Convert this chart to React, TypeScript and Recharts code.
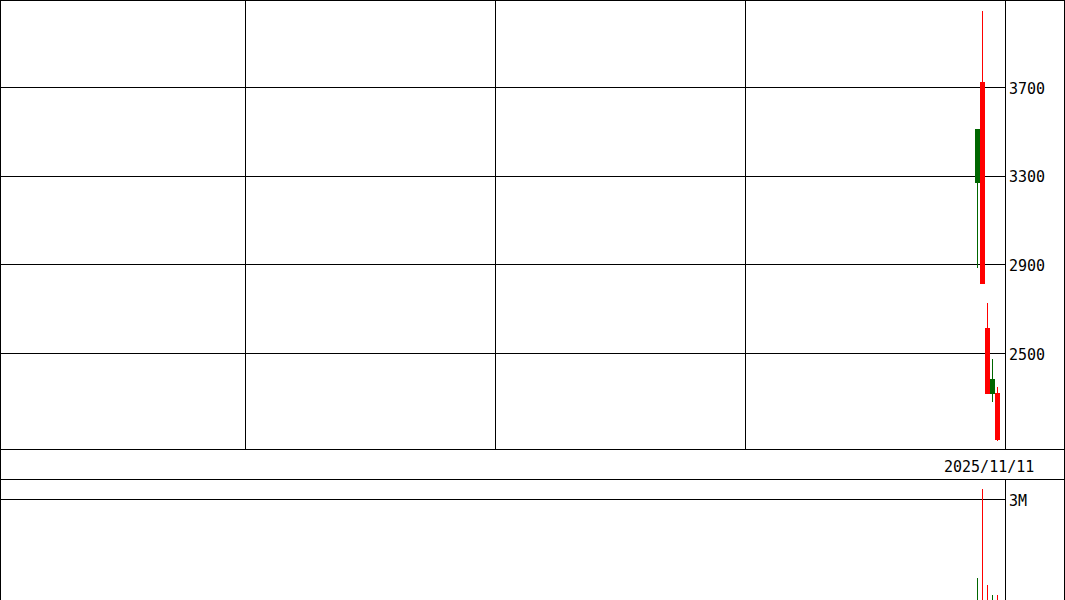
import { ComposedChart, Bar, XAxis, YAxis, CartesianGrid, ReferenceLine, Cell } from 'recharts'

// daily candles since listing (last 5 sessions of a 201-day window)
const dates = ['2025/11/05', '2025/11/06', '2025/11/07', '2025/11/10', '2025/11/11']
const opens = [3268, 3727, 2617, 2316, 2320]
const highs = [3515, 4047, 2730, 2477, 2351]
const lows = [2885, 2813, 2316, 2280, 2105]
const closes = [3515, 2813, 2316, 2387, 2109]
const volumes = [657000, 3313000, 448000, 149000, 149000]

const windowDays = 201
const firstDay = 195
const monthLines = [49, 99, 149]
const priceTicks = [2500, 2900, 3300, 3700]
const priceDomain = [2065, 4095]
const volumeTicks = [3000000]
const volumeDomain = [0, 3612000]
const lastDate = '2025/11/11'

const UP = '#006600'
const DOWN = '#ff0000'
const FONT = "'DejaVu Sans Mono', monospace"
const CANDLE_W = 5

const rows = dates.map((d, i) => ({
  date: d,
  day: firstDay + i + 0.5,
  open: opens[i],
  high: highs[i],
  low: lows[i],
  close: closes[i],
  volume: volumes[i],
  up: closes[i] >= opens[i],
}))

function Candle(props: any) {
  const { x, y, width, height, payload } = props
  if (x == null || y == null) return null
  const top = Math.min(y, y + height)
  const h = Math.abs(height)
  const span = payload.high - payload.low || 1
  const k = h / span
  const cx = x + width / 2
  const bTop = top + (payload.high - Math.max(payload.open, payload.close)) * k
  const bBot = top + (payload.high - Math.min(payload.open, payload.close)) * k
  const color = payload.up ? UP : DOWN
  return (
    <g>
      <rect x={cx - 0.5} y={top} width={1} height={h} fill={color} />
      <rect x={cx - CANDLE_W / 2} y={bTop} width={CANDLE_W} height={Math.max(1, bBot - bTop)} fill={color} />
    </g>
  )
}

function AxisTick(props: any) {
  const { x, y, payload, fmt } = props
  return (
    <text x={x} y={y + 6} fill="#000" fontSize={15} fontFamily={FONT} textAnchor="start">
      {fmt ? fmt(payload.value) : payload.value}
    </text>
  )
}

export default function App() {
  return (
    <div style={{ position: 'relative', width: 1065, height: 600, background: '#fff', overflow: 'hidden' }}>
      <style>{`body{margin:0} svg line, svg rect, svg path{shape-rendering:crispEdges}`}</style>

      {/* price panel */}
      <div style={{ position: 'absolute', left: 0, top: 0 }}>
        <ComposedChart width={1065} height={450} data={rows} margin={{ top: 0, right: 0, bottom: 0, left: 0 }}>
          <CartesianGrid stroke="#000" vertical={false} />
          <XAxis type="number" dataKey="day" domain={[0, windowDays]} hide allowDataOverflow />
          <YAxis
            orientation="right"
            width={60}
            domain={priceDomain}
            ticks={priceTicks}
            allowDataOverflow
            axisLine={{ stroke: '#000' }}
            tickLine={false}
            tick={<AxisTick />}
            tickSize={4}
            tickMargin={0}
          />
          {monthLines.map(m => (
            <ReferenceLine key={m} x={m} stroke="#000" />
          ))}
          <Bar dataKey={(r: any) => [r.low, r.high]} barSize={1} shape={<Candle />} isAnimationActive={false} />
        </ComposedChart>
      </div>

      {/* date band */}
      <div
        style={{
          position: 'absolute', left: 0, top: 449, width: 1065, height: 31, boxSizing: 'border-box',
          borderTop: '1px solid #000', borderBottom: '1px solid #000',
        }}
      />
      <div style={{ position: 'absolute', left: 944, top: 459, font: `15px ${FONT}`, lineHeight: '16px', color: '#000' }}>
        {lastDate}
      </div>

      {/* volume panel */}
      <div style={{ position: 'absolute', left: 0, top: 479 }}>
        <ComposedChart width={1065} height={121} data={rows} margin={{ top: 0, right: 0, bottom: 0, left: 0 }}>
          <CartesianGrid stroke="#000" vertical={false} />
          <XAxis type="number" dataKey="day" domain={[0, windowDays]} hide allowDataOverflow />
          <YAxis
            orientation="right"
            width={60}
            domain={volumeDomain}
            ticks={volumeTicks}
            allowDataOverflow
            axisLine={{ stroke: '#000' }}
            tickLine={false}
            tick={<AxisTick fmt={(v: number) => `${v / 1000000}M`} />}
            tickSize={4}
            tickMargin={0}
          />
          <Bar dataKey="volume" barSize={1} isAnimationActive={false}>
            {rows.map(r => (
              <Cell key={r.date} fill={r.up ? UP : DOWN} />
            ))}
          </Bar>
        </ComposedChart>
      </div>

      {/* outer frame */}
      <div
        style={{
          position: 'absolute', left: 0, top: 0, width: 1065, height: 600, boxSizing: 'border-box',
          borderTop: '1px solid #000', borderLeft: '1px solid #000', borderRight: '1px solid #000',
          pointerEvents: 'none',
        }}
      />
    </div>
  )
}
